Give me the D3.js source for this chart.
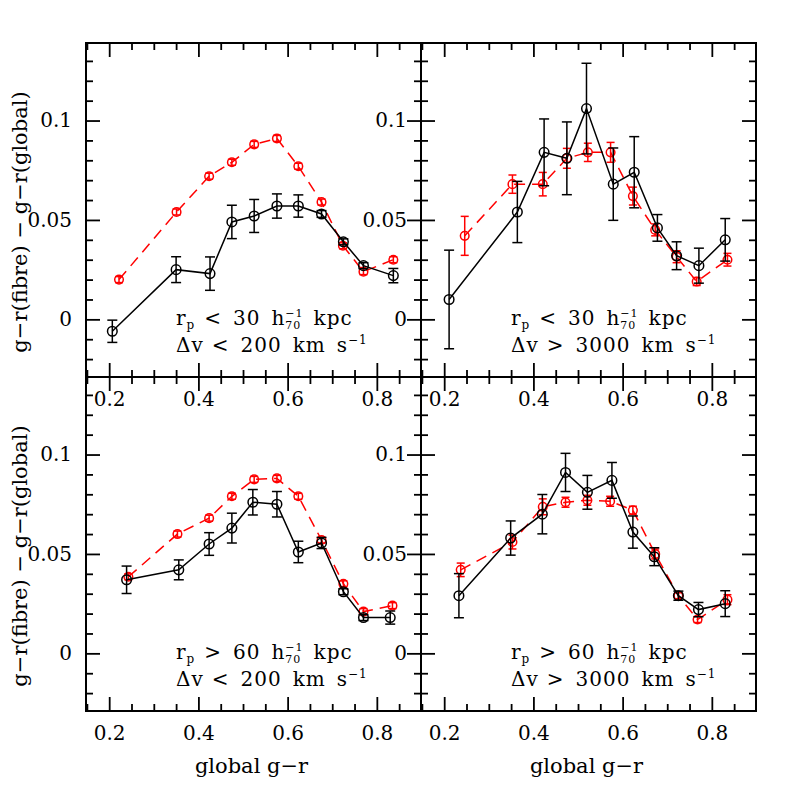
<!DOCTYPE html>
<html>
<head>
<meta charset="utf-8">
<script src="https://cdn.jsdelivr.net/npm/d3@7"></script>
<style>
  body { margin: 0; background: #fff; }
  text { font-family: "DejaVu Serif", serif; fill: #000; }
</style>
</head>
<body>
<svg id="chart" width="797" height="797"></svg>
<script>
/************************** Data **************************/
// top left : rp < 30, dv < 200
var tlBlackX = [0.207, 0.350, 0.426, 0.475, 0.525, 0.576, 0.624, 0.676, 0.725, 0.770, 0.837];
var tlBlackY = [-0.006, 0.025, 0.023, 0.049, 0.052, 0.057, 0.057, 0.053, 0.039, 0.027, 0.022];
var tlBlackE = [0.0056, 0.0065, 0.0084, 0.0084, 0.0083, 0.0061, 0.0056, 0.0017, 0.0015, 0.0015, 0.0036];
var tlRedX = [0.222, 0.351, 0.424, 0.475, 0.525, 0.576, 0.624, 0.676, 0.724, 0.770, 0.837];
var tlRedY = [0.020, 0.054, 0.072, 0.079, 0.088, 0.091, 0.077, 0.059, 0.037, 0.024, 0.030];
var tlRedE = [0.0015, 0.0015, 0.0015, 0.0015, 0.0015, 0.0015, 0.0015, 0.0015, 0.0015, 0.0015, 0.0015];

// top right : rp < 30, dv > 3000
var trBlackX = [0.211, 0.364, 0.424, 0.475, 0.519, 0.579, 0.626, 0.678, 0.721, 0.771, 0.830];
var trBlackY = [0.010, 0.054, 0.084, 0.081, 0.106, 0.068, 0.074, 0.046, 0.032, 0.027, 0.040];
var trBlackE = [0.0248, 0.0154, 0.0168, 0.0183, 0.0228, 0.0182, 0.0179, 0.0067, 0.0070, 0.0088, 0.0107];
var trRedX = [0.246, 0.353, 0.421, 0.475, 0.522, 0.573, 0.623, 0.673, 0.721, 0.766, 0.835];
var trRedY = [0.042, 0.068, 0.068, 0.081, 0.084, 0.084, 0.062, 0.045, 0.0315, 0.019, 0.030];
var trRedE = [0.0098, 0.0046, 0.0059, 0.0050, 0.0046, 0.0050, 0.0045, 0.0030, 0.0030, 0.0020, 0.0032];

// bottom left : rp > 60, dv < 200
var blBlackX = [0.239, 0.356, 0.424, 0.475, 0.522, 0.576, 0.624, 0.676, 0.725, 0.770, 0.830];
var blBlackY = [0.037, 0.042, 0.055, 0.063, 0.076, 0.075, 0.051, 0.0555, 0.031, 0.018, 0.018];
var blBlackE = [0.0069, 0.0050, 0.0057, 0.0075, 0.0064, 0.0064, 0.0054, 0.0028, 0.0015, 0.0015, 0.0033];
var blRedX = [0.243, 0.353, 0.424, 0.475, 0.525, 0.576, 0.624, 0.676, 0.725, 0.770, 0.835];
var blRedY = [0.0385, 0.060, 0.068, 0.079, 0.0875, 0.088, 0.079, 0.057, 0.035, 0.021, 0.024];
var blRedE = [0.0015, 0.0015, 0.0015, 0.0015, 0.0015, 0.0015, 0.0015, 0.0015, 0.0015, 0.0015, 0.0015];

// bottom right : rp > 60, dv > 3000
var brBlackX = [0.233, 0.349, 0.420, 0.472, 0.521, 0.576, 0.623, 0.671, 0.725, 0.770, 0.830];
var brBlackY = [0.029, 0.058, 0.070, 0.091, 0.081, 0.087, 0.061, 0.0486, 0.029, 0.022, 0.025];
var brBlackE = [0.0111, 0.0086, 0.0099, 0.0096, 0.0085, 0.0090, 0.0081, 0.0045, 0.0023, 0.0036, 0.0065];
var brRedX = [0.237, 0.353, 0.421, 0.472, 0.521, 0.572, 0.623, 0.673, 0.725, 0.768, 0.835];
var brRedY = [0.042, 0.056, 0.0737, 0.076, 0.077, 0.0765, 0.072, 0.050, 0.029, 0.017, 0.027];
var brRedE = [0.0034, 0.0035, 0.0040, 0.0025, 0.0025, 0.0025, 0.0020, 0.0025, 0.0015, 0.0015, 0.0025];

var xMajor = [0.2, 0.4, 0.6, 0.8];
var yMajor = [0, 0.05, 0.1];
var yTitle = "g\u2212r(fibre) \u2212 g\u2212r(global)";
var xTitle = "global g\u2212r";

/************************** Layout **************************/
var svg = d3.select("#chart");
var colX = [86, 421], colW = 335;
var rowY = [43, 377], rowH = 334;
var xDomain = [0.148, 0.899], yDomain = [-0.029, 0.139];

var panels = [
  {col: 0, row: 0, bx: tlBlackX, by: tlBlackY, be: tlBlackE, rx: tlRedX, ry: tlRedY, re: tlRedE, rp: "<", rv: "30", dvs: "<", dv: "200"},
  {col: 1, row: 0, bx: trBlackX, by: trBlackY, be: trBlackE, rx: trRedX, ry: trRedY, re: trRedE, rp: "<", rv: "30", dvs: ">", dv: "3000"},
  {col: 0, row: 1, bx: blBlackX, by: blBlackY, be: blBlackE, rx: blRedX, ry: blRedY, re: blRedE, rp: ">", rv: "60", dvs: "<", dv: "200"},
  {col: 1, row: 1, bx: brBlackX, by: brBlackY, be: brBlackE, rx: brRedX, ry: brRedY, re: brRedE, rp: ">", rv: "60", dvs: ">", dv: "3000"}
];

// write text made of pieces (sub/superscripts, wide gaps) one after the other
function richText(g, x, y, parts) {
  var cx = x, lastStart = x;
  parts.forEach(function(p) {
    if (p.gap) { cx += p.gap; return; }
    var start = p.stack ? lastStart : cx;
    var t = g.append("text")
      .attr("x", start).attr("y", y + (p.dy || 0))
      .style("font-size", (p.size || 20) + "px")
      .style("letter-spacing", "1px")
      .text(p.t);
    var w = t.node().getComputedTextLength();
    if (p.stack) { cx = Math.max(cx, start + w); }
    else { lastStart = start; cx = start + w; }
  });
}

function styleAxis(a) {
  a.select(".domain").remove();
  a.selectAll("line").attr("stroke", "#000").attr("stroke-width", 1.8);
  a.selectAll("text").style("font-family", "DejaVu Serif").style("font-size", "20px").attr("fill", "#000");
}

panels.forEach(function(p) {
  var x0 = colX[p.col], y0 = rowY[p.row];
  var x = d3.scaleLinear().domain(xDomain).range([x0, x0 + colW]);
  var y = d3.scaleLinear().domain(yDomain).range([y0 + rowH, y0]);
  var g = svg.append("g");
  var xMinor = d3.range(0.15, 0.9, 0.05).map(function(v) { return +v.toFixed(2); })
    .filter(function(v) { return xMajor.indexOf(v) < 0; });
  var yMinor = d3.range(-0.02, 0.135, 0.01).map(function(v) { return +v.toFixed(2); })
    .filter(function(v) { return yMajor.indexOf(v) < 0; });

  // bottom / left axes carry labels, top / right only ticks
  g.append("g").attr("transform", "translate(0," + (y0 + rowH) + ")")
    .call(d3.axisBottom(x).tickValues(xMajor).tickSize(-14).tickSizeOuter(0).tickPadding(15).tickFormat(String))
    .call(styleAxis);
  g.append("g").attr("transform", "translate(0," + (y0 + rowH) + ")")
    .call(d3.axisBottom(x).tickValues(xMinor).tickSize(-7).tickSizeOuter(0).tickFormat(""))
    .call(styleAxis);
  g.append("g").attr("transform", "translate(0," + y0 + ")")
    .call(d3.axisTop(x).tickValues(xMajor).tickSize(-14).tickSizeOuter(0).tickFormat(""))
    .call(styleAxis);
  g.append("g").attr("transform", "translate(0," + y0 + ")")
    .call(d3.axisTop(x).tickValues(xMinor).tickSize(-7).tickSizeOuter(0).tickFormat(""))
    .call(styleAxis);
  g.append("g").attr("transform", "translate(" + x0 + ",0)")
    .call(d3.axisLeft(y).tickValues(yMajor).tickSize(-14).tickSizeOuter(0).tickPadding(14).tickFormat(String))
    .call(styleAxis);
  g.append("g").attr("transform", "translate(" + x0 + ",0)")
    .call(d3.axisLeft(y).tickValues(yMinor).tickSize(-7).tickSizeOuter(0).tickFormat(""))
    .call(styleAxis);
  g.append("g").attr("transform", "translate(" + (x0 + colW) + ",0)")
    .call(d3.axisRight(y).tickValues(yMajor).tickSize(-14).tickSizeOuter(0).tickFormat(""))
    .call(styleAxis);
  g.append("g").attr("transform", "translate(" + (x0 + colW) + ",0)")
    .call(d3.axisRight(y).tickValues(yMinor).tickSize(-7).tickSizeOuter(0).tickFormat(""))
    .call(styleAxis);

  g.append("rect").attr("x", x0).attr("y", y0).attr("width", colW).attr("height", rowH)
    .attr("fill", "none").attr("stroke", "#000").attr("stroke-width", 2);

  // series: red dashed first, black solid on top
  var series = [
    {xs: p.rx, ys: p.ry, es: p.re, color: "#ff0000", dash: "11,7", r: 4.3, cap: 4},
    {xs: p.bx, ys: p.by, es: p.be, color: "#000000", dash: null, r: 4.8, cap: 5}
  ];
  series.forEach(function(s) {
    var pts = s.xs.map(function(v, i) { return {x: v, y: s.ys[i], e: s.es[i]}; });
    var line = d3.line().x(function(d) { return x(d.x); }).y(function(d) { return y(d.y); });
    g.append("path").datum(pts).attr("d", line)
      .attr("fill", "none").attr("stroke", s.color).attr("stroke-width", 1.5)
      .attr("stroke-dasharray", s.dash);
    var eb = g.append("g").attr("stroke", s.color).attr("stroke-width", 1.5);
    pts.forEach(function(d) {
      var xp = x(d.x);
      eb.append("line").attr("x1", xp).attr("x2", xp).attr("y1", y(d.y - d.e)).attr("y2", y(d.y + d.e));
      eb.append("line").attr("x1", xp - s.cap).attr("x2", xp + s.cap).attr("y1", y(d.y - d.e)).attr("y2", y(d.y - d.e));
      eb.append("line").attr("x1", xp - s.cap).attr("x2", xp + s.cap).attr("y1", y(d.y + d.e)).attr("y2", y(d.y + d.e));
    });
    g.selectAll(null).data(pts).enter().append("circle")
      .attr("cx", function(d) { return x(d.x); }).attr("cy", function(d) { return y(d.y); })
      .attr("r", s.r).attr("fill", "none").attr("stroke", s.color).attr("stroke-width", 1.5);
  });

  // annotation
  var ax = x0 + 90;
  richText(g, ax, y0 + 282, [
    {t: "r"}, {t: "p", size: 12, dy: 4}, {gap: 9}, {t: p.rp}, {gap: 11}, {t: p.rv}, {gap: 11},
    {t: "h"}, {t: "\u22121", size: 11, dy: -8}, {t: "70", size: 11, dy: 4, stack: true}, {gap: 10}, {t: "kpc"}
  ]);
  richText(g, ax, y0 + 309, [
    {t: "\u0394v"}, {gap: 8}, {t: p.dvs}, {gap: 11}, {t: p.dv}, {gap: 11}, {t: "km"}, {gap: 11},
    {t: "s"}, {t: "\u22121", size: 12, dy: -8}
  ]);

  if (p.row === 1) {
    g.append("text").attr("x", x0 + colW / 2 - 2).attr("y", 773)
      .attr("text-anchor", "middle").style("font-size", "21px").text(xTitle);
  }
  if (p.col === 0) {
    g.append("text").attr("transform", "translate(27," + (y0 + rowH / 2 + 12) + ") rotate(-90)")
      .attr("text-anchor", "middle").style("font-size", "21px").text(yTitle);
  }
});
</script>
</body>
</html>
